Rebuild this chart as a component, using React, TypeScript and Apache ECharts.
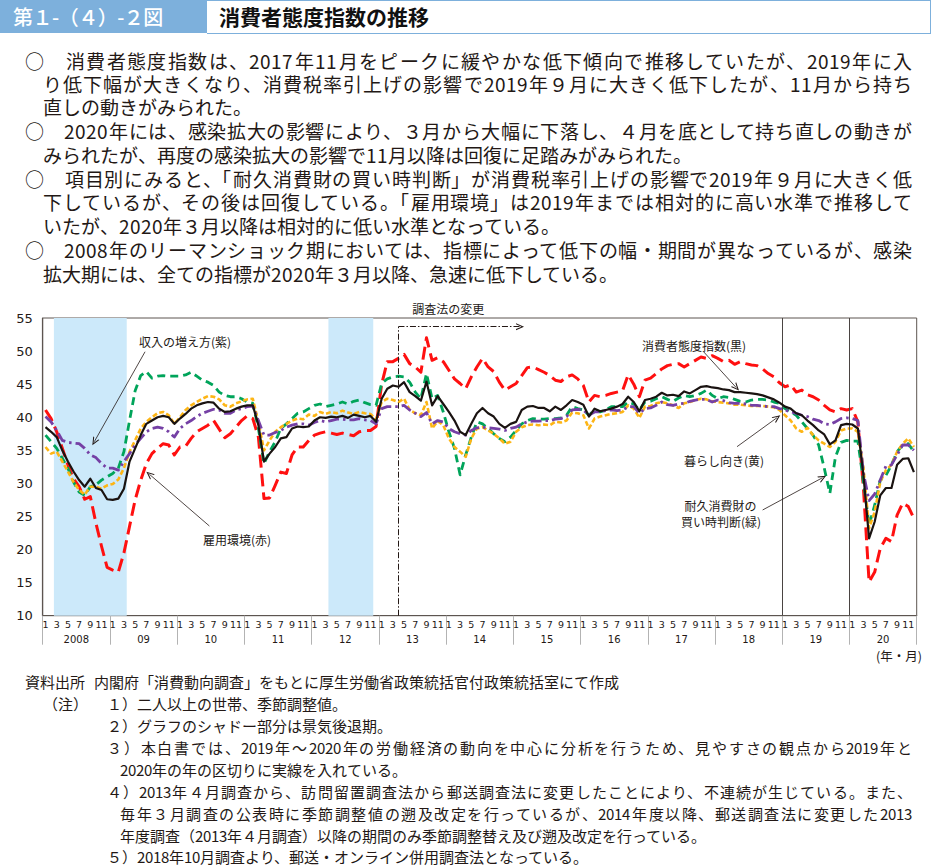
import React, { useEffect, useRef } from "react";
import * as echarts from "echarts";

// ---------- DATA ----------
const startYear = 2008;
const yearLabels = ["2008", "09", "10", "11", "12", "13", "14", "15", "16", "17", "18", "19", "20"];
const monthsPerYear = [1, 2, 3, 4, 5, 6, 7, 8, 9, 10, 11, 12];
const categories: string[] = [];
yearLabels.forEach((_, yi) => monthsPerYear.forEach((m) => categories.push(`${startYear + yi}/${m}`)));

// 消費者態度指数（黒）
const consumerIndex = [
  38.5, 37.8, 37.0, 35.0, 33.3, 31.8, 30.5, 29.5, 30.7, 29.3, 29.0, 27.6,
  27.5, 27.7, 29.2, 33.3, 35.3, 37.3, 39.0, 39.5, 40.0, 40.2, 40.0, 39.0,
  39.8, 40.5, 41.3, 41.8, 42.1, 42.3, 42.2, 41.3, 40.8, 40.9, 41.3, 41.6,
  41.8, 41.8, 38.8, 33.3, 34.5, 35.5, 36.8, 37.0, 38.3, 38.6, 38.5, 38.6,
  39.5, 40.0, 39.9, 40.1, 40.0, 40.2, 39.9, 40.4, 40.2, 40.0, 40.2, 39.3,
  42.8, 44.3, 44.8, 44.6, 45.3, 43.8, 43.2, 42.5, 45.4, 41.8, 43.2, 42.0,
  40.8, 39.5, 37.8, 37.3, 39.0, 40.6, 41.4, 40.6, 40.1, 39.0, 38.4, 39.0,
  39.3, 41.1, 41.6, 41.7, 41.4, 41.4, 40.9, 41.6, 41.1, 41.8, 42.6, 42.3,
  41.9, 40.1, 41.3, 40.9, 41.1, 41.3, 41.6, 42.0, 43.1, 42.3, 40.9, 42.6,
  42.8, 43.1, 43.7, 43.3, 43.4, 43.2, 43.9, 43.6, 44.1, 44.6, 44.7, 44.5,
  44.4, 44.2, 44.1, 43.8, 43.8, 43.7, 43.6, 43.5, 43.3, 43.0, 42.7, 42.2,
  41.6, 41.3, 40.6, 40.3, 39.5, 38.8, 38.0, 37.4, 35.9, 36.5, 38.8, 39.0,
  38.9, 38.3, 31.2, 21.7, 24.2, 28.2, 29.3, 29.3, 32.8, 33.7, 33.8, 31.7,
];

// 雇用環境（赤）
const employment = [
  41.1, 39.8, 37.8, 35.3, 32.8, 30.7, 29.5, 27.6, 28.0, 24.0, 20.5, 17.3,
  16.9, 16.6, 19.5, 23.5, 27.5, 30.5, 33.0, 34.5, 35.3, 36.0, 35.8, 34.3,
  35.5, 35.6, 36.8, 37.8, 38.3, 38.8, 39.5, 38.2, 36.9, 37.5, 38.5, 39.5,
  40.2, 39.8, 37.0, 27.7, 27.8, 29.7, 31.7, 31.5, 34.3, 35.5, 35.5, 36.5,
  37.3, 37.6, 37.8, 37.6, 37.4, 37.6, 37.4, 37.2, 37.8, 38.0, 38.0, 38.6,
  45.0, 48.4, 48.4, 48.9, 49.5, 48.1, 47.6, 46.8, 52.0, 48.6, 49.0, 48.4,
  47.1, 45.8, 45.1, 44.3, 46.1, 47.6, 48.9, 47.6, 46.9, 45.3, 44.1, 44.6,
  45.1, 46.3, 47.5, 47.6, 47.2, 46.8, 46.3, 45.6, 45.4, 46.1, 46.4, 45.8,
  44.8, 42.3, 43.3, 43.1, 43.3, 43.6, 43.8, 44.0, 46.4, 45.0, 43.1, 45.6,
  45.9, 46.6, 47.3, 47.8, 48.0, 48.1, 47.6, 48.1, 48.6, 49.1, 48.9, 49.3,
  48.9, 48.4, 48.6, 48.0, 48.4, 48.1, 47.9, 47.8, 47.3, 46.6, 46.1, 45.2,
  44.6, 44.9, 43.8, 44.1, 43.4, 43.1, 42.6, 41.8, 41.1, 40.8, 41.3, 41.1,
  41.3, 39.3, 29.2, 15.1, 16.6, 20.2, 21.7, 21.2, 25.2, 27.0, 26.5, 24.7,
];

// 耐久消費財の買い時判断（緑）
const durables = [
  37.3, 36.3, 35.3, 33.8, 32.3, 30.2, 28.7, 28.2, 29.5, 29.8, 30.5, 31.0,
  31.5, 32.3, 34.8, 39.5, 44.0, 46.3, 46.9, 45.9, 46.2, 46.3, 46.2, 46.2,
  46.2, 46.4, 46.8, 46.2, 45.6, 45.3, 44.8, 43.8, 43.3, 43.1, 43.1, 42.8,
  42.3, 42.1, 38.3, 33.0, 34.8, 36.3, 38.3, 39.0, 39.8, 40.6, 40.8, 41.3,
  41.8, 42.0, 41.6, 41.8, 42.0, 42.3, 42.0, 42.4, 42.6, 42.2, 41.9, 41.8,
  45.1, 45.8, 46.1, 46.2, 46.1, 45.3, 43.8, 42.8, 46.6, 42.8, 43.3, 40.8,
  37.8, 35.3, 31.3, 34.3, 37.0, 39.3, 39.0, 38.3, 37.5, 36.8, 36.3, 37.0,
  38.0, 39.0, 39.5, 39.8, 39.7, 39.7, 39.8, 39.8, 39.9, 40.3, 41.6, 41.3,
  41.1, 40.3, 41.1, 40.8, 41.1, 41.6, 41.6, 41.6, 42.3, 42.0, 41.1, 42.3,
  42.4, 42.8, 43.1, 42.7, 42.4, 42.9, 43.3, 43.1, 43.3, 43.6, 44.1, 43.3,
  42.8, 43.1, 43.0, 42.7, 42.4, 42.3, 42.6, 42.7, 42.7, 42.6, 42.3, 42.1,
  41.3, 40.8, 40.3, 39.3, 38.3, 37.3, 35.8, 32.3, 28.5, 34.0, 36.2, 36.5,
  36.4, 36.4, 30.2, 23.7, 26.7, 30.5, 31.2, 32.8, 34.8, 35.8, 36.0, 34.8,
];

// 暮らし向き（黄）
const livelihood = [
  35.5, 34.5, 34.8, 33.3, 31.8, 30.2, 29.0, 28.3, 29.5, 29.5, 29.2, 29.7,
  29.9, 30.6, 32.3, 34.8, 36.5, 38.3, 39.3, 40.0, 40.6, 40.8, 40.3, 39.0,
  40.0, 41.1, 41.8, 42.3, 42.8, 43.2, 43.1, 42.7, 41.8, 41.6, 42.1, 42.4,
  42.7, 42.8, 39.3, 35.0, 36.5, 37.8, 38.5, 39.0, 39.5, 39.8, 39.7, 40.4,
  40.2, 40.8, 40.5, 40.8, 40.6, 41.0, 40.7, 40.5, 40.8, 40.6, 40.5, 39.7,
  42.3, 42.8, 42.6, 42.3, 42.8, 41.1, 40.6, 40.3, 42.3, 38.3, 39.4, 38.8,
  36.8, 35.5, 34.8, 34.0, 36.8, 38.3, 38.5, 38.0, 37.5, 36.8, 36.0, 36.3,
  37.8, 38.5, 38.8, 38.9, 38.8, 38.9, 38.8, 39.3, 39.2, 39.5, 40.7, 40.6,
  40.3, 38.3, 39.8, 40.1, 40.3, 40.5, 40.6, 40.8, 41.8, 41.3, 39.9, 41.6,
  41.7, 42.1, 42.3, 42.1, 41.8, 41.4, 42.1, 42.3, 42.6, 42.8, 42.7, 42.4,
  42.3, 42.2, 42.1, 41.9, 41.9, 41.8, 41.7, 41.7, 41.7, 41.6, 41.5, 41.1,
  40.3, 39.5, 38.3, 37.8, 38.4, 37.3, 36.5, 36.0, 35.5, 36.3, 38.0, 38.3,
  38.3, 37.8, 32.3, 23.2, 25.7, 30.2, 32.0, 32.8, 34.8, 36.0, 36.8, 35.5,
];

// 収入の増え方（紫）
const income = [
  40.1, 39.3, 38.0, 36.5, 36.2, 36.1, 36.0, 35.3, 34.3, 33.9, 33.0, 32.3,
  32.3, 32.0, 33.3, 34.5, 35.8, 36.8, 37.8, 38.3, 38.5, 38.3, 37.8, 37.0,
  38.3, 39.0, 39.5, 40.1, 40.6, 40.9, 41.2, 41.1, 40.6, 40.6, 41.1, 41.3,
  41.6, 41.7, 39.5, 37.3, 37.3, 37.7, 38.0, 38.5, 38.8, 39.0, 39.0, 38.8,
  39.2, 39.5, 39.3, 39.5, 39.7, 39.7, 39.6, 39.6, 39.8, 39.6, 39.5, 39.0,
  41.3, 41.6, 41.6, 41.6, 41.8, 41.1, 40.6, 40.1, 40.7, 39.0, 39.5, 39.3,
  38.3, 37.8, 37.5, 37.3, 38.0, 38.4, 38.5, 38.4, 38.3, 38.2, 38.0, 38.3,
  38.5, 39.0, 39.3, 39.4, 39.4, 39.5, 39.5, 39.7, 39.8, 40.1, 41.1, 41.2,
  41.1, 40.3, 40.8, 40.8, 41.0, 41.1, 41.0, 41.1, 41.6, 41.6, 40.6, 41.3,
  41.4, 41.8, 42.3, 41.9, 41.8, 42.0, 42.1, 42.4, 42.6, 42.7, 42.7, 42.3,
  42.6, 42.5, 42.2, 42.1, 42.1, 42.0, 41.8, 41.8, 41.7, 41.6, 41.6, 41.3,
  41.1, 40.8, 40.6, 40.3, 40.1, 39.7, 39.5, 39.0, 38.9, 39.3, 39.8, 39.9,
  39.8, 39.5, 31.5, 27.4, 28.4, 30.5, 32.6, 32.8, 34.3, 35.8, 35.8, 35.0,
];

// 景気後退期（シャドー）: first and last month
const recessions: [string, string][] = [
  ["2008/3", "2009/3"],
  ["2012/4", "2012/11"],
];
const yearDividers = ["2019/1", "2020/1"];
const surveyChange = "2013/4";

const yTicks = { min: 10, max: 55, step: 5 };

// ---------- TEXT ----------
const CJK = '"Noto Sans CJK JP", "Noto Sans", sans-serif';
const CJK_TIGHT = '"CJKTight", "Noto Sans CJK JP", "Noto Sans", sans-serif';
const INK = "#231815";

const fontFace = `@font-face {
  font-family: "CJKTight";
  src: local("Noto Sans CJK JP Regular"), local("NotoSansCJKjp-Regular"), local("Noto Sans CJK JP");
  ascent-override: 92%;
  descent-override: 24%;
  line-gap-override: 0%;
}`;

const paraLines: { t: string; x: number; y: number; j: boolean }[] = [
  { t: "○　消費者態度指数は、2017年11月をピークに緩やかな低下傾向で推移していたが、2019年に入", x: 25, y: 63, j: true },
  { t: "り低下幅が大きくなり、消費税率引上げの影響で2019年９月に大きく低下したが、11月から持ち", x: 43, y: 86, j: true },
  { t: "直しの動きがみられた。", x: 43, y: 109, j: false },
  { t: "○　2020年には、感染拡大の影響により、３月から大幅に下落し、４月を底として持ち直しの動きが", x: 25, y: 133, j: true },
  { t: "みられたが、再度の感染拡大の影響で11月以降は回復に足踏みがみられた。", x: 43, y: 157, j: false },
  { t: "○　項目別にみると、「耐久消費財の買い時判断」が消費税率引上げの影響で2019年９月に大きく低", x: 25, y: 181, j: true },
  { t: "下しているが、その後は回復している。「雇用環境」は2019年までは相対的に高い水準で推移して", x: 43, y: 204, j: true },
  { t: "いたが、2020年３月以降は相対的に低い水準となっている。", x: 43, y: 228, j: false },
  { t: "○　2008年のリーマンショック期においては、指標によって低下の幅・期間が異なっているが、感染", x: 25, y: 252, j: true },
  { t: "拡大期には、全ての指標が2020年３月以降、急速に低下している。", x: 43, y: 276, j: false },
];

const noteLines: { t: string; x: number; y: number; j: boolean }[] = [
  { t: "資料出所", x: 25, y: 683, j: false },
  { t: "内閣府「消費動向調査」をもとに厚生労働省政策統括官付政策統括室にて作成", x: 94, y: 683, j: false },
  { t: "（注）", x: 43, y: 705, j: false },
  { t: "１）二人以上の世帯、季節調整値。", x: 107, y: 705, j: false },
  { t: "２）グラフのシャドー部分は景気後退期。", x: 107, y: 727, j: false },
  { t: "３）本白書では、2019年～2020年の労働経済の動向を中心に分析を行うため、見やすさの観点から2019年と", x: 107, y: 749, j: true },
  { t: "2020年の年の区切りに実線を入れている。", x: 120, y: 771, j: false },
  { t: "４）2013年４月調査から、訪問留置調査法から郵送調査法に変更したことにより、不連続が生じている。また、", x: 107, y: 793, j: true },
  { t: "毎年３月調査の公表時に季節調整値の遡及改定を行っているが、2014年度以降、郵送調査法に変更した2013", x: 120, y: 815, j: true },
  { t: "年度調査（2013年４月調査）以降の期間のみ季節調整替え及び遡及改定を行っている。", x: 120, y: 837, j: false },
  { t: "５）2018年10月調査より、郵送・オンライン併用調査法となっている。", x: 107, y: 858, j: false },
];

const CHEVRON = "path://M5,0 L10,10 L8.4,10 L5,3.2 L1.6,10 L0,10 Z";

function lineSeries(name: string, data: number[], color: string, width: number, type: any, z: number) {
  return {
    type: "line",
    name,
    data,
    xAxisIndex: 0,
    yAxisIndex: 0,
    symbol: "none",
    showSymbol: false,
    silent: true,
    z,
    lineStyle: { color, width, type, cap: "butt", join: "round" },
  };
}

function arrow(from: [number, number], to: [number, number]) {
  return [
    { coord: from, symbol: "none" },
    { coord: to, symbol: CHEVRON, symbolSize: [7, 8] },
  ];
}

function Chart() {
  const ref = useRef<HTMLDivElement | null>(null);
  useEffect(() => {
    if (!ref.current) return;
    const chart = echarts.init(ref.current, undefined, { renderer: "svg" });
    const idx = (c: string) => categories.indexOf(c);
    const surveyX = idx(surveyChange) + 0.5;
    const topY = 53.68;
    const dashDot = { type: [6, 2, 1.5, 2], color: INK, width: 1 };

    const option: any = {
      animation: false,
      grid: {
        left: 42.7,
        right: 16.3,
        top: 28,
        bottom: 54.3,
        show: true,
        borderColor: "#5d5550",
        borderWidth: 1,
        backgroundColor: "transparent",
      },
      xAxis: [
        {
          type: "category",
          data: categories,
          position: "bottom",
          boundaryGap: true,
          axisLine: { show: true, onZero: false, lineStyle: { color: "#5d5550", width: 1.2 } },
          axisTick: { show: false },
          splitLine: { show: false },
          axisLabel: {
            interval: 0,
            margin: 4,
            fontSize: 9.5,
            fontFamily: "DejaVu Sans",
            color: INK,
            formatter: (v: string) => {
              const m = Number(v.split("/")[1]);
              return m % 2 === 1 ? String(m) : "";
            },
          },
        },
        {
          type: "category",
          data: yearLabels,
          position: "bottom",
          boundaryGap: true,
          axisLine: { show: false, onZero: false },
          axisTick: { show: true, interval: 0, length: 29, lineStyle: { color: "#b3b3b3", width: 1 } },
          splitLine: { show: false },
          axisLabel: { interval: 0, margin: 19, fontSize: 10, fontFamily: "DejaVu Sans", color: INK },
        },
        { type: "value", min: 0, max: categories.length, show: false, position: "top" },
      ],
      yAxis: {
        type: "value",
        min: yTicks.min,
        max: yTicks.max,
        interval: yTicks.step,
        axisLine: { show: true, lineStyle: { color: "#5d5550", width: 1.2 } },
        axisTick: { show: false },
        splitLine: { show: false },
        axisLabel: { fontSize: 13, fontFamily: "DejaVu Sans", color: INK, margin: 10 },
      },
      series: [
        {
          type: "line",
          xAxisIndex: 2,
          yAxisIndex: 0,
          data: [],
          silent: true,
          z: 1,
          markArea: {
            silent: true,
            itemStyle: { color: "#cce9fa" },
            data: recessions.map(([a, b]) => [{ xAxis: idx(a) }, { xAxis: idx(b) + 1 }]),
          },
        },
        lineSeries("雇用環境", employment, "#ff1010", 3, [13, 6], 2),
        lineSeries("耐久消費財の買い時判断", durables, "#00a45a", 2.8, [8, 5], 3),
        lineSeries("暮らし向き", livelihood, "#fdb515", 2.6, [5, 2.5], 4),
        lineSeries("収入の増え方", income, "#7540a5", 2.8, [11, 4, 2.5, 4], 5),
        lineSeries("消費者態度指数", consumerIndex, "#1a1311", 2.2, "solid", 6),
        {
          type: "line",
          xAxisIndex: 2,
          yAxisIndex: 0,
          data: [],
          silent: true,
          z: 7,
          markLine: {
            silent: true,
            symbol: ["none", "none"],
            label: { show: false },
            emphasis: { disabled: true },
            lineStyle: { color: INK, width: 0.8, type: "solid" },
            data: [
              ...yearDividers.map((c) => ({ xAxis: idx(c), lineStyle: { color: "#4a4442", width: 1, type: "solid" } })),
              [{ coord: [surveyX, yTicks.min], lineStyle: dashDot }, { coord: [surveyX, topY] }],
              [
                { coord: [surveyX, topY], lineStyle: dashDot, symbol: "none" },
                { coord: [85.2, topY], symbol: CHEVRON, symbolSize: [7, 8] },
              ],
              arrow([18.27, 49.9], [9.21, 36.3]),
              arrow([29.75, 23.56], [19.04, 31.38]),
              arrow([117.96, 49.9], [123.8, 44.47]),
              arrow([123.93, 35.55], [131.07, 39.93]),
              arrow([128.5, 25.98], [139.2, 30.86]),
            ],
          },
        },
      ],
      graphic: [
        ["収入の増え方(紫)", 185, 51.7],
        ["雇用環境(赤)", 237, 249.3],
        ["消費者態度指数(黒)", 694, 55],
        ["暮らし向き(黄)", 724, 170.7],
        ["耐久消費財の", 720.5, 215.3],
        ["買い時判断(緑)", 721, 231.7],
        ["調査法の変更", 448.3, 18.3],
      ].map(([t, x, y]) => ({
        type: "text",
        x,
        y,
        silent: true,
        style: {
          text: t,
          fontSize: 12,
          fontFamily: CJK,
          fill: INK,
          align: "center",
          verticalAlign: "middle",
          textAlign: "center",
          textVerticalAlign: "middle",
        },
      })).concat([
        {
          type: "text",
          x: 922,
          y: 365,
          silent: true,
          style: {
            text: "(年・月)",
            fontSize: 12.5,
            fontFamily: CJK,
            fill: INK,
            align: "right",
            verticalAlign: "middle",
            textAlign: "right",
            textVerticalAlign: "middle",
          },
        } as any,
      ]),
    };
    chart.setOption(option);
    return () => chart.dispose();
  }, []);
  return <div ref={ref} style={{ position: "absolute", left: 0, top: 290, width: 933, height: 380 }} />;
}

function TextLine({ t, x, y, j, size, lh }: { t: string; x: number; y: number; j: boolean; size: number; lh: number }) {
  return (
    <div
      style={{
        position: "absolute",
        left: x,
        top: y - lh / 2,
        width: 912 - x,
        height: lh,
        lineHeight: `${lh}px`,
        fontSize: size,
        fontFamily: CJK_TIGHT,
        color: INK,
        textAlign: j ? "justify" : "left",
        textAlignLast: j ? "justify" : "left",
        whiteSpace: j ? "normal" : "nowrap",
        overflow: "visible",
      } as any}
    >
      {t}
    </div>
  );
}

export default function App() {
  return (
    <div style={{ position: "absolute", left: 0, top: 0, width: 933, height: 868, background: "#fff", overflow: "hidden" }}>
      <style>{fontFace}</style>
      <div
        style={{
          position: "absolute",
          left: 0,
          top: 0,
          width: 207,
          height: 33,
          background: "#7db0dc",
          color: "#fff",
          fontFamily: CJK,
          fontSize: 20,
          fontWeight: 500,
          lineHeight: "33px",
          paddingLeft: 13,
          boxSizing: "border-box",
          whiteSpace: "nowrap",
          letterSpacing: -0.5,
        }}
      >
        第１-（４）-２図
      </div>
      <div
        style={{
          position: "absolute",
          left: 207,
          top: 0,
          width: 724,
          height: 34,
          border: "1.5px solid #7db0dc",
          borderLeft: "none",
          boxSizing: "border-box",
          background: "#fff",
          color: "#111",
          fontFamily: CJK,
          fontSize: 21,
          fontWeight: 700,
          lineHeight: "31px",
          paddingLeft: 12,
          whiteSpace: "nowrap",
        }}
      >
        消費者態度指数の推移
      </div>
      {paraLines.map((l, i) => (
        <TextLine key={"p" + i} {...l} size={19} lh={22} />
      ))}
      <Chart />
      {noteLines.map((l, i) => (
        <TextLine key={"n" + i} {...l} size={15} lh={18} />
      ))}
    </div>
  );
}
